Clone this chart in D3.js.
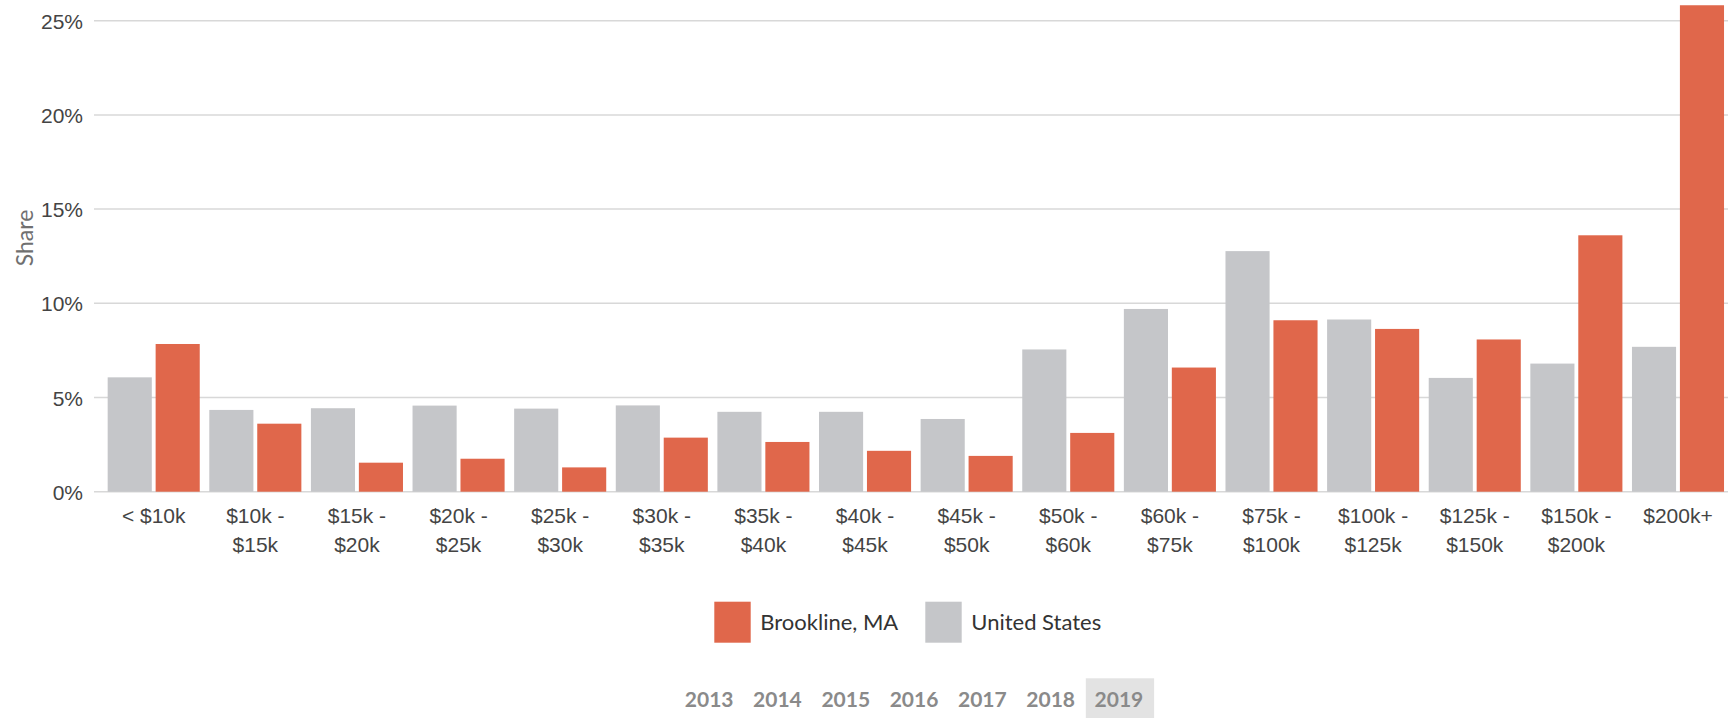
<!DOCTYPE html>
<html>
<head>
<meta charset="utf-8">
<script src="https://cdn.jsdelivr.net/npm/d3@7"></script>
<style>
  body { margin: 0; background: #fff; }
  svg { display: block; }
</style>
</head>
<body>
<svg id="chart" width="1736" height="718"></svg>
<script>
const categories = ["< $10k", "$10k - $15k", "$15k - $20k", "$20k - $25k", "$25k - $30k",
  "$30k - $35k", "$35k - $40k", "$40k - $45k", "$45k - $50k", "$50k - $60k",
  "$60k - $75k", "$75k - $100k", "$100k - $125k", "$125k - $150k", "$150k - $200k", "$200k+"];
const seriesNames = ["United States", "Brookline, MA"];
const unitedStates = [6.07, 4.34, 4.43, 4.57, 4.41, 4.58, 4.24, 4.24, 3.86, 7.55, 9.70, 12.77, 9.14, 6.04, 6.80, 7.69];
const brookline = [7.84, 3.61, 1.54, 1.75, 1.29, 2.87, 2.64, 2.17, 1.90, 3.12, 6.59, 9.10, 8.64, 8.08, 13.61, 25.82];
const yTicks = [0, 5, 10, 15, 20, 25];
const legendItems = ["Brookline, MA", "United States"];
const years = ["2013", "2014", "2015", "2016", "2017", "2018", "2019"];
const selectedYear = "2019";

const colors = { "Brookline, MA": "#e0674b", "United States": "#c5c6c9" };
const values = { "United States": unitedStates, "Brookline, MA": brookline };

const svg = d3.select("#chart");

const x0 = d3.scaleBand().domain(categories).range([102.9, 1728.8]).paddingInner(0.094).paddingOuter(0.047);
const x1 = d3.scaleBand().domain(seriesNames).range([0, x0.bandwidth()]).paddingInner(0.08);
const y = d3.scaleLinear().domain([0, 25]).range([491.7, 20.7]);

// gridlines
const grid = svg.append("g");
grid.selectAll("line").data(yTicks).join("line")
  .attr("x1", 94).attr("x2", 1728)
  .attr("y1", d => y(d)).attr("y2", d => y(d))
  .attr("stroke", "#d8d8d8").attr("stroke-width", 1.5);

// y axis labels
const yAxis = d3.axisLeft(y).tickValues(yTicks).tickFormat(d => d + "%").tickSize(0).tickPadding(0);
const yg = svg.append("g").attr("transform", "translate(83,0)").call(yAxis);
yg.select(".domain").remove();
yg.selectAll("text").attr("font-family", "'Liberation Sans', Arial, sans-serif")
  .attr("font-size", 21).attr("fill", "#444").attr("dy", "0.36em");

svg.append("text")
  .attr("transform", "translate(33,238) rotate(-90)")
  .attr("text-anchor", "middle")
  .attr("font-family", "Lato, sans-serif")
  .attr("font-size", 23).attr("fill", "#707070")
  .text("Share");

// bars
const groups = svg.append("g").selectAll("g").data(categories).join("g")
  .attr("transform", d => `translate(${x0(d)},0)`);
groups.selectAll("rect").data((d, i) => seriesNames.map(s => ({ s, v: values[s][i] }))).join("rect")
  .attr("x", d => x1(d.s))
  .attr("width", x1.bandwidth())
  .attr("y", d => y(d.v))
  .attr("height", d => y(0) - y(d.v))
  .attr("fill", d => colors[d.s]);

// x labels
const xl = svg.append("g");
categories.forEach(c => {
  const parts = c.split(" - ");
  const lines = parts.length > 1 ? [parts[0] + " -", parts[1]] : [c];
  const t = xl.append("text")
    .attr("text-anchor", "middle")
    .attr("font-family", "'Liberation Sans', Arial, sans-serif")
    .attr("font-size", 21).attr("fill", "#444");
  lines.forEach((l, i) => {
    t.append("tspan").attr("x", x0(c) + x0.bandwidth() / 2).attr("y", 523.3 + i * 28.4).text(l);
  });
});

// legend
const legX = [714.3, 925.3];
const leg = svg.append("g");
legendItems.forEach((name, i) => {
  leg.append("rect").attr("x", legX[i]).attr("y", 601.7).attr("width", 36.4).attr("height", 41)
    .attr("fill", colors[name]);
  leg.append("text").attr("x", legX[i] + 46).attr("y", 630)
    .attr("font-family", "Lato, sans-serif").attr("font-size", 22).attr("fill", "#333")
    .text(name);
});

// year selector
const yearX = d3.scaleBand().domain(years).range([675, 1153.1]);
svg.append("rect")
  .attr("x", yearX(selectedYear) + 1).attr("y", 678.3)
  .attr("width", yearX.bandwidth()).attr("height", 40)
  .attr("fill", "#e3e3e3");
svg.append("g").selectAll("text").data(years).join("text")
  .attr("x", d => yearX(d) + yearX.bandwidth() / 2)
  .attr("y", 706.5)
  .attr("text-anchor", "middle")
  .attr("font-family", "Lato, sans-serif").attr("font-weight", "bold")
  .attr("font-size", 21).attr("fill", "#8a8a8a")
  .text(d => d);
</script>
</body>
</html>
